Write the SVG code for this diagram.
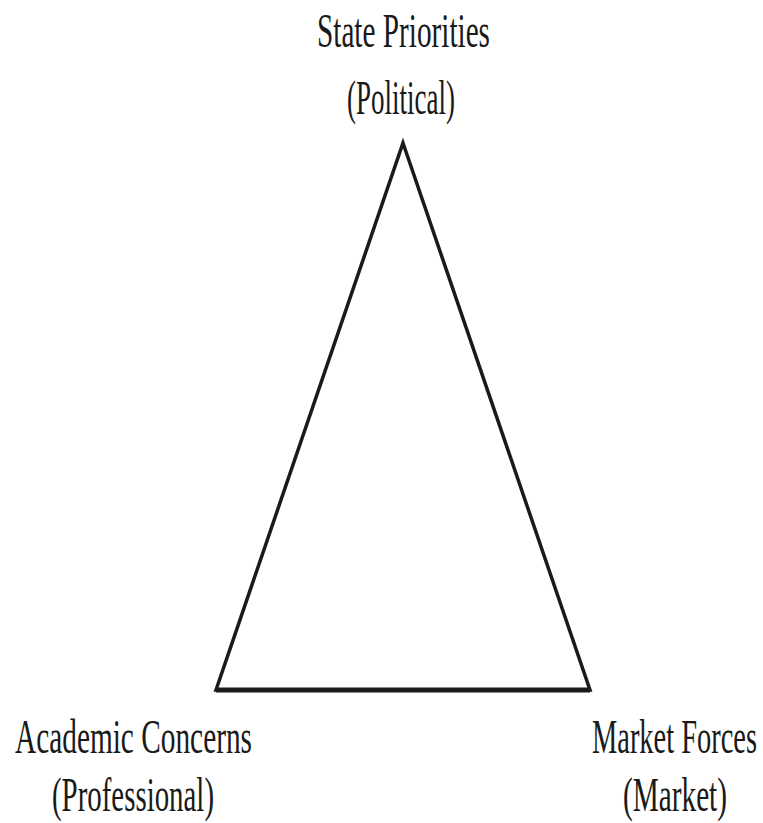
<svg xmlns="http://www.w3.org/2000/svg" width="763" height="823" viewBox="0 0 763 823">
<style>
.lbl{font-family:"Liberation Serif","DejaVu Serif",serif;font-size:49px;fill:#1a1a1a}
.tri{fill:none;stroke:#1a1a1a;stroke-width:3.5;stroke-linejoin:miter}
</style>
<rect width="763" height="823" fill="#ffffff"/>
<g id="connectors">
<path class="tri" d="M403,143 L590,690 L216,690 Z"/>
<line x1="216" y1="690" x2="590" y2="690" stroke="#1a1a1a" stroke-width="5"/>
</g>
<g id="node-state">
<text class="lbl" x="317" y="47" textLength="173" lengthAdjust="spacingAndGlyphs">State Priorities</text>
<text class="lbl" x="347" y="114" textLength="108" lengthAdjust="spacingAndGlyphs">(Political)</text>
</g>
<g id="node-academic">
<text class="lbl" x="15" y="753" textLength="237" lengthAdjust="spacingAndGlyphs">Academic Concerns</text>
<text class="lbl" x="52" y="811" textLength="162" lengthAdjust="spacingAndGlyphs">(Professional)</text>
</g>
<g id="node-market">
<text class="lbl" x="592" y="753" textLength="165" lengthAdjust="spacingAndGlyphs">Market Forces</text>
<text class="lbl" x="623" y="811" textLength="104" lengthAdjust="spacingAndGlyphs">(Market)</text>
</g>
</svg>
